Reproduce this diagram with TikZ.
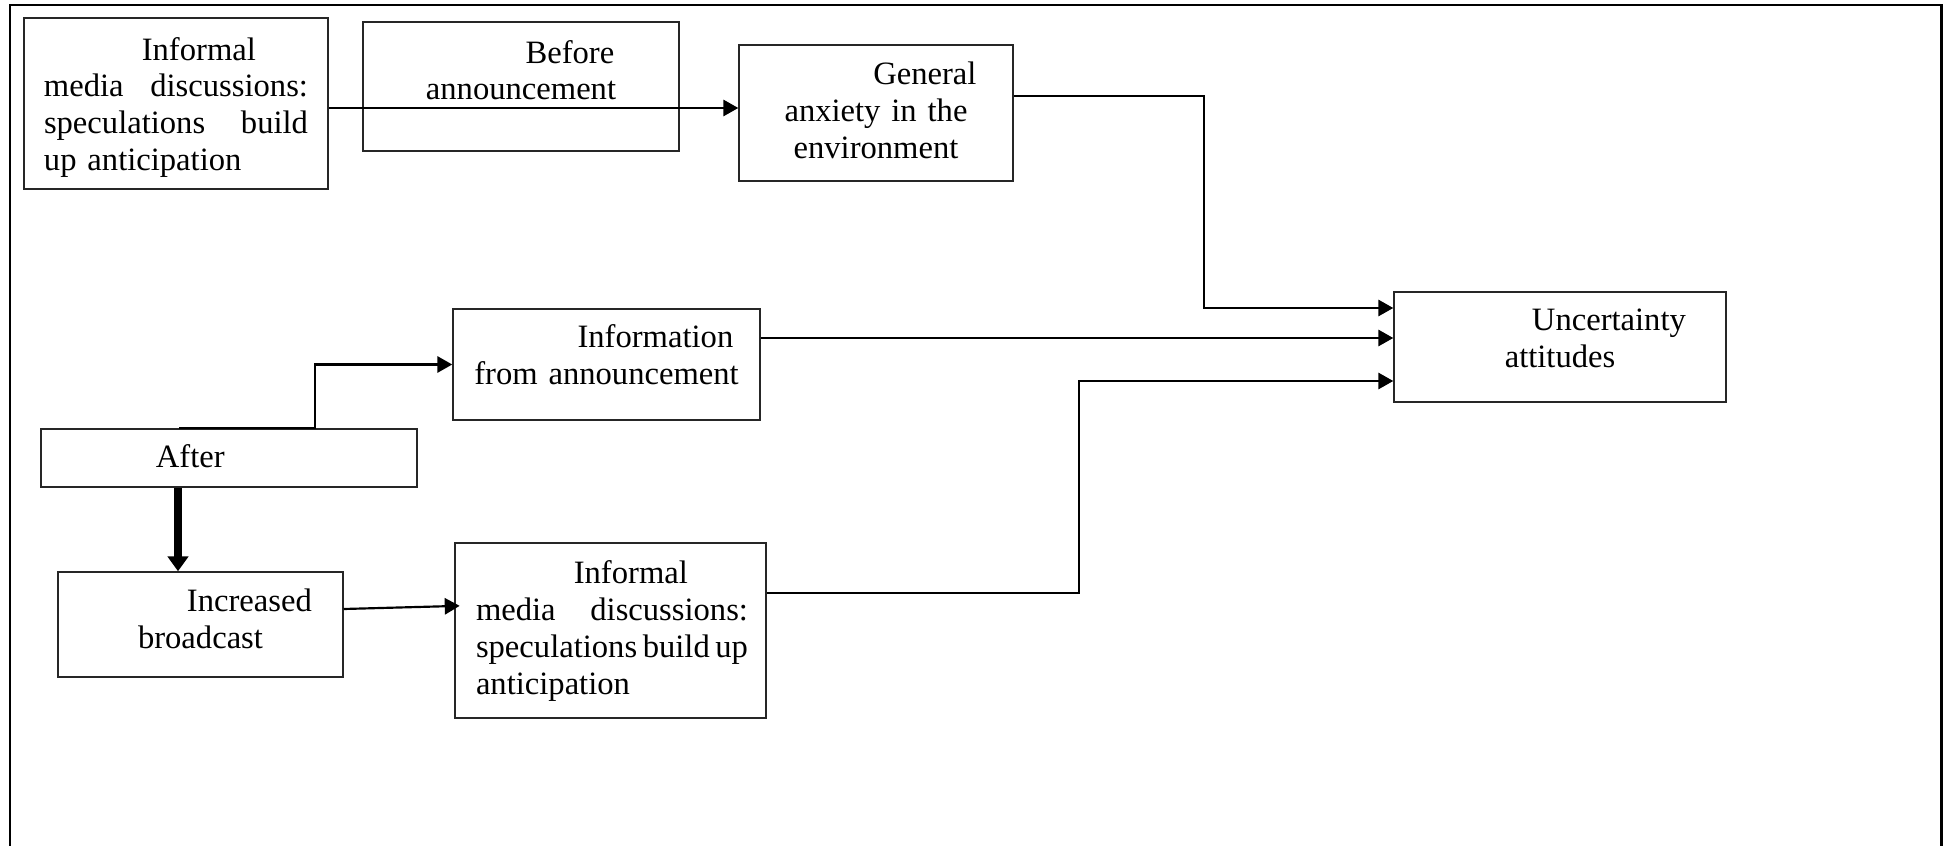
\documentclass[tikz,border=0pt]{standalone}
\usepackage{fontspec}
\setmainfont{Liberation Serif}
\usetikzlibrary{arrows.meta}
\setlength\parindent{0pt}
\tikzset{
  box/.style={draw=black!85, line width=0.55pt, fill=white, inner sep=0pt,
    font=\fontsize{12pt}{13.6pt}\selectfont},
  arr/.style={draw=black, line width=0.8pt, -{Triangle[length=5.5pt,width=6pt]}},
  fatarr/.style={draw=black, line width=2.6pt, -{Triangle[length=5.5pt,width=7.5pt]}},
  frameline/.style={draw=black, line width=1.1pt},
}
\begin{document}
\begin{tikzpicture}[x=0.368pt,y=-0.368pt]
\useasboundingbox (0,0) rectangle (1944,846);
% outer frame (open at the bottom)
\draw[frameline] (10,870) -- (10,5) -- (1941,5) -- (1941,870);

% boxes
\node[box, text width=111.87pt, text height=15.46pt, text depth=47.47pt, align=left] (b1) at (176,103.5)
 {\leftskip=7.36pt\rightskip=7.36pt plus 1fil\relax\hspace*{36pt}Informal\\ media\hfill discussions:\\ speculations\hfill build\\ up anticipation\par};
\node[box, text width=116.29pt, text height=15.09pt, text depth=32.38pt, align=center] (b2) at (521,86.5)
 {\hspace*{36pt}Before\\announcement};
\node[box, text width=100.83pt, text height=14.5pt, text depth=35.55pt, align=center] (b3) at (876,113)
 {\hspace*{36pt}General\\anxiety in the\\environment};
\node[box, text width=122.18pt, text height=14.35pt, text depth=26.13pt, align=center] (b4) at (1560,347)
 {\hspace*{36pt}Uncertainty\\attitudes};
\node[box, text width=112.98pt, text height=14.3pt, text depth=26.55pt, align=center] (b5) at (606.5,364.5)
 {\hspace*{36pt}Information\\from announcement};
\node[box, text width=138.37pt, text height=14.2pt, text depth=7.14pt, align=left] (b6) at (229,458)
 {\hspace*{42.3pt}After};
\node[box, text width=104.88pt, text height=14.6pt, text depth=24.04pt, align=center] (b7) at (200.5,624.5)
 {\hspace*{36pt}Increased\\broadcast};
\node[box, text width=114.45pt, text height=15pt, text depth=49.4pt, align=left] (b8) at (610.5,630.5)
 {\leftskip=7.73pt\rightskip=6.62pt plus 1fil\relax\hspace*{36pt}Informal\\ media\hfill discussions:\\ speculations\hfill build\hfill up\\ anticipation\par};

% helper coordinates
\coordinate (ya) at (0,108);
\coordinate (k1) at (1204,96);
\coordinate (k2) at (1204,308);
\coordinate (yc) at (0,338);
\coordinate (k3) at (1079,593);
\coordinate (k4) at (1079,381);
\coordinate (k5) at (179,0);
\coordinate (k6) at (315,364.5);
\coordinate (k7) at (178,0);
\coordinate (yg1) at (0,609);
\coordinate (yg2) at (0,606);

% connectors
\draw[arr] (b1.east |- ya) -- (b3.west |- ya);
\draw[arr] (b3.east |- k1) -- (k1) -- (k2) -- (b4.west |- k2);
\draw[arr] (b5.east |- yc) -- (b4.west |- yc);
\draw[arr] (b8.east |- k3) -- (k3) -- (k4) -- (b4.west |- k4);
\draw[arr] (b6.north -| k5) -- (b6.north -| k6) -- (k6) -- (b5.west);
\draw[fatarr] (b6.south -| k7) -- (b7.north -| k7);
\draw[arr, shorten >=-2pt] (b7.east |- yg1) -- (b8.west |- yg2);
\end{tikzpicture}
\end{document}
